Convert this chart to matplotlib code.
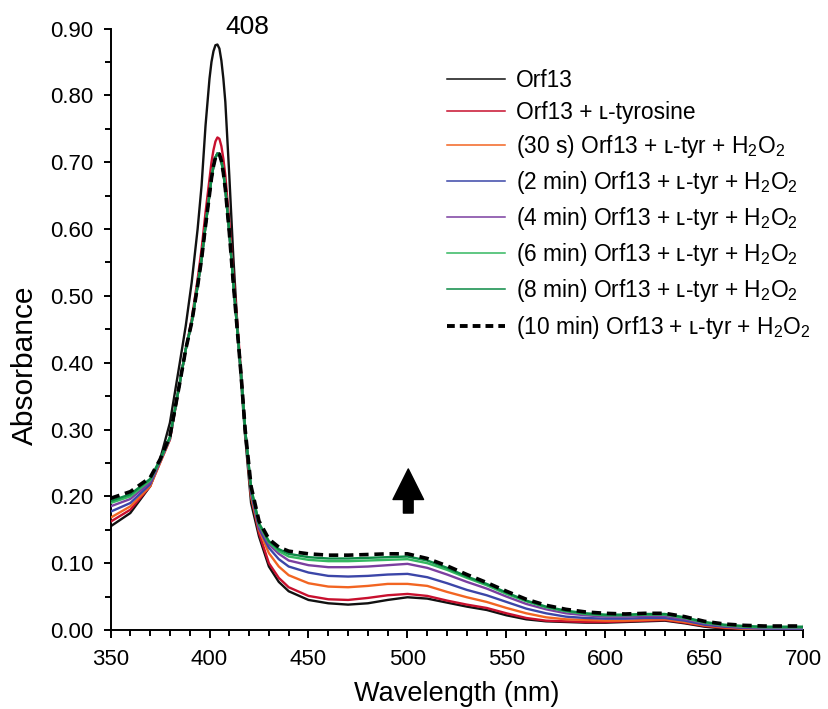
import matplotlib
matplotlib.use('Agg')
import matplotlib.pyplot as plt
from matplotlib.lines import Line2D
from matplotlib.ticker import MultipleLocator, FormatStrFormatter

plt.rcParams['font.family'] = ['Liberation Sans', 'DejaVu Sans']
plt.rcParams['mathtext.fontset'] = 'custom'
plt.rcParams['mathtext.rm'] = 'Liberation Sans'
plt.rcParams['mathtext.default'] = 'regular'

# wavelength grid (nm)
wl = [350, 360, 370, 375, 380, 385, 388, 391, 394, 396, 398, 400, 401, 402, 403,
      404, 405, 406, 407, 408, 410, 412, 414, 416, 418, 421, 425, 430, 435, 440,
      450, 460, 470, 480, 490, 500, 510, 520, 530, 540, 550, 560, 570, 580, 590,
      600, 610, 620, 630, 640, 650, 660, 670, 680, 690, 700]

orf13 = [.155, .175, .215, .255, .31, .40, .455, .52, .60, .665, .755, .825, .85, .866, .875,
         .876, .87, .852, .825, .79, .68, .56, .46, .37, .29, .19, .14, .095, .072, .058,
         .045, .040, .038, .040, .045, .049, .047, .041, .035, .030, .022, .016, .013, .012, .011,
         .011, .012, .013, .014, .010, .005, .002, .001, .0, .0, .0]
orf13_tyr = [.162, .18, .215, .25, .285, .37, .42, .465, .525, .57, .625, .675, .70, .718, .731,
             .737, .735, .724, .705, .68, .61, .535, .46, .385, .30, .20, .145, .10, .078, .064,
             .051, .046, .045, .048, .052, .054, .051, .044, .038, .033, .025, .018, .014, .013, .012,
             .012, .013, .014, .015, .011, .006, .003, .002, .001, .001, .001]
t30s = [.168, .185, .215, .25, .285, .37, .42, .46, .515, .555, .605, .652, .676, .694, .707,
        .713, .712, .702, .684, .66, .595, .52, .45, .38, .30, .20, .15, .115, .095, .082,
        .070, .065, .064, .066, .069, .069, .066, .057, .049, .042, .033, .025, .019, .016, .015,
        .014, .014, .015, .016, .012, .007, .004, .002, .001, .001, .001]
t2 = [.177, .19, .218, .252, .286, .37, .42, .46, .515, .555, .605, .652, .676, .694, .707,
      .713, .712, .702, .684, .66, .595, .52, .45, .38, .30, .205, .152, .123, .106, .095,
      .086, .081, .080, .081, .083, .084, .079, .070, .060, .052, .042, .032, .025, .020, .018,
      .017, .017, .018, .018, .014, .008, .005, .003, .002, .002, .002]
t4 = [.185, .196, .221, .253, .287, .37, .42, .46, .515, .555, .605, .652, .676, .694, .707,
      .713, .712, .702, .684, .66, .595, .52, .45, .38, .30, .21, .155, .128, .114, .104,
      .097, .094, .094, .095, .097, .099, .093, .083, .072, .062, .050, .039, .031, .025, .022,
      .020, .020, .021, .021, .016, .010, .006, .004, .003, .003, .003]
t6 = [.190, .200, .224, .254, .288, .37, .42, .46, .515, .555, .605, .652, .676, .694, .707,
      .713, .712, .702, .684, .66, .595, .52, .45, .38, .30, .212, .158, .131, .118, .110,
      .105, .103, .103, .104, .105, .106, .100, .090, .078, .067, .054, .043, .034, .028, .024,
      .022, .022, .023, .023, .018, .011, .007, .005, .004, .004, .004]
t8 = [.193, .203, .226, .255, .289, .37, .42, .46, .515, .555, .605, .652, .676, .694, .707,
      .713, .712, .702, .684, .66, .595, .52, .45, .38, .30, .213, .16, .133, .121, .114,
      .109, .107, .107, .108, .109, .110, .104, .093, .080, .069, .056, .044, .035, .029, .025,
      .023, .023, .024, .024, .019, .012, .008, .006, .005, .005, .005]
t10 = [.197, .207, .228, .255, .29, .37, .42, .46, .515, .555, .605, .652, .676, .694, .707,
       .713, .712, .702, .684, .66, .595, .52, .45, .38, .30, .215, .163, .136, .124, .118,
       .114, .112, .112, .113, .114, .114, .107, .096, .083, .071, .058, .046, .037, .031, .027,
       .025, .024, .025, .025, .020, .013, .009, .007, .006, .006, .006]

tyr = 'Orf13 + \u029f-tyr + H$_2$O$_2$'
labels = ['Orf13', 'Orf13 + \u029f-tyrosine', '(30 s) ' + tyr, '(2 min) ' + tyr,
          '(4 min) ' + tyr, '(6 min) ' + tyr, '(8 min) ' + tyr, '(10 min) ' + tyr]
series = [orf13, orf13_tyr, t30s, t2, t4, t6, t8, t10]
colors = ['#111111', '#c8102e', '#f26522', '#3b46a8', '#7b3fa0', '#34b860', '#0c8a45', '#000000']

fig = plt.figure(figsize=(8.29, 7.09), dpi=100)
ax = fig.add_axes([0.1333, 0.1114, 0.8359, 0.8484])

handles = []
for i, (ys, c, lab) in enumerate(zip(series, colors, labels)):
    if i == 7:
        ax.plot(wl, ys, color=c, lw=2.6, ls=(0, (2.6, 1.6)), zorder=10)
        handles.append(Line2D([], [], color=c, lw=2.8, ls=(0, (2.0, 1.3))))
    else:
        ax.plot(wl, ys, color=c, lw=1.7, zorder=2 + i)
        handles.append(Line2D([], [], color=c, lw=1.1))

ax.set_xlim(350, 700)
ax.set_ylim(0, 0.90)
ax.xaxis.set_major_locator(MultipleLocator(50))
ax.xaxis.set_minor_locator(MultipleLocator(10))
ax.yaxis.set_major_locator(MultipleLocator(0.1))
ax.yaxis.set_minor_locator(MultipleLocator(0.05))
ax.yaxis.set_major_formatter(FormatStrFormatter('%.2f'))
for s in ['top', 'right']:
    ax.spines[s].set_visible(False)
for s in ['left', 'bottom']:
    ax.spines[s].set_linewidth(1.4)
ax.tick_params(which='major', direction='out', length=5.4, width=1.4, labelsize=16)
ax.tick_params(which='minor', direction='out', length=4.4, width=1.4)
ax.tick_params(axis='x', which='major', pad=8)
ax.tick_params(axis='y', which='major', pad=7)

ax.set_xlabel('Wavelength (nm)', fontsize=19.5, labelpad=8)
ax.set_ylabel('Absorbance', fontsize=21.5)
ax.yaxis.set_label_coords(-0.104, 0.44)

ax.text(419, 0.902, '408', fontsize=19, ha='center', va='center', clip_on=False)
ax.annotate('', xy=(500.4, 0.241), xytext=(500.4, 0.175),
            arrowprops=dict(facecolor='black', edgecolor='black', width=7, headwidth=22,
                            headlength=22, shrink=0))

ax.legend(handles, labels, loc='upper left', bbox_to_anchor=(0.486, 0.933), frameon=False,
          fontsize=16.4, handlelength=2.55, handletextpad=0.45, labelspacing=0.4,
          borderaxespad=0, borderpad=0)

fig.savefig('out.png', dpi=100)
